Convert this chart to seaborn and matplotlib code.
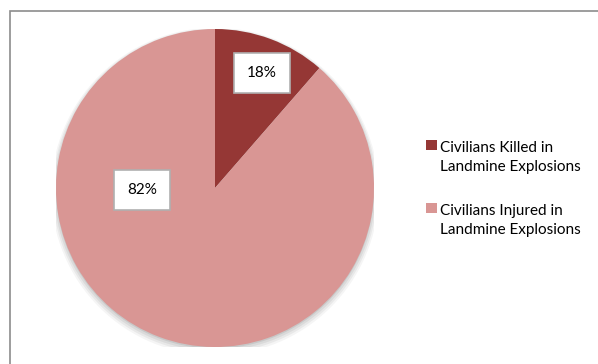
import matplotlib
matplotlib.use("Agg")
import matplotlib.pyplot as plt
import seaborn as sns
from matplotlib.patches import Rectangle, Circle

sns.set_theme(style="white")
plt.rcParams['font.family'] = ['Lato', 'DejaVu Sans']

categories = ["Civilians Killed in\nLandmine Explosions",
              "Civilians Injured in\nLandmine Explosions"]
shares = [11.4, 88.6]
pct_labels = ["18%", "82%"]
colors = ["#953735", "#D99694"]

W, H = 598, 364
fig = plt.figure(figsize=(W / 100, H / 100), dpi=100)
fig.patch.set_facecolor("white")

# outer frame
fig.patches.append(Rectangle((10 / W, -0.1), 1.1, (H - 11) / H + 0.1,
                             transform=fig.transFigure, fill=False,
                             edgecolor="#8c8c8c", linewidth=1.2))

cx, cy, r = 215, 188, 159
ax = fig.add_axes([(cx - r) / W, (H - cy - r) / H, 2 * r / W, 2 * r / H])

# soft shadow
for i, a in enumerate([0.04, 0.05, 0.06, 0.08]):
    ax.add_patch(Circle((0, -0.022 + 0.004 * i), 1.0 + 0.01 * (3 - i),
                        color="black", alpha=a, lw=0, zorder=0))

wedges, _ = ax.pie(shares, colors=colors, startangle=90, counterclock=False,
                   radius=1, wedgeprops=dict(linewidth=0))
for w in wedges:
    w.set_zorder(2)
ax.set_xlim(-1, 1)
ax.set_ylim(-1, 1)
ax.set_aspect("equal")
ax.axis("off")

# percentage label boxes
label_pos = [((262 - cx) / r, (cy - 73) / r), ((142 - cx) / r, (cy - 190) / r)]
for (x, y), t in zip(label_pos, pct_labels):
    ax.text(x, y, t, ha="center", va="center", fontsize=11, color="black",
            zorder=5,
            bbox=dict(boxstyle="square,pad=0.85", facecolor="white",
                      edgecolor="#b0b0b0", linewidth=1.2))

# legend (handle aligned to the first text line)
entry_tops = [140, 203]
for top, lab, c in zip(entry_tops, categories, colors):
    fig.patches.append(Rectangle((426 / W, 1 - (top + 10) / H), 11 / W, 10 / H,
                                 transform=fig.transFigure, facecolor=c,
                                 edgecolor="none"))
    for i, line in enumerate(lab.split("\n")):
        fig.text(440 / W, 1 - (top + 12 + 18.5 * i) / H, line, ha="left",
                 va="baseline", fontsize=11, color="black")

fig.savefig("out.png", dpi=100)
